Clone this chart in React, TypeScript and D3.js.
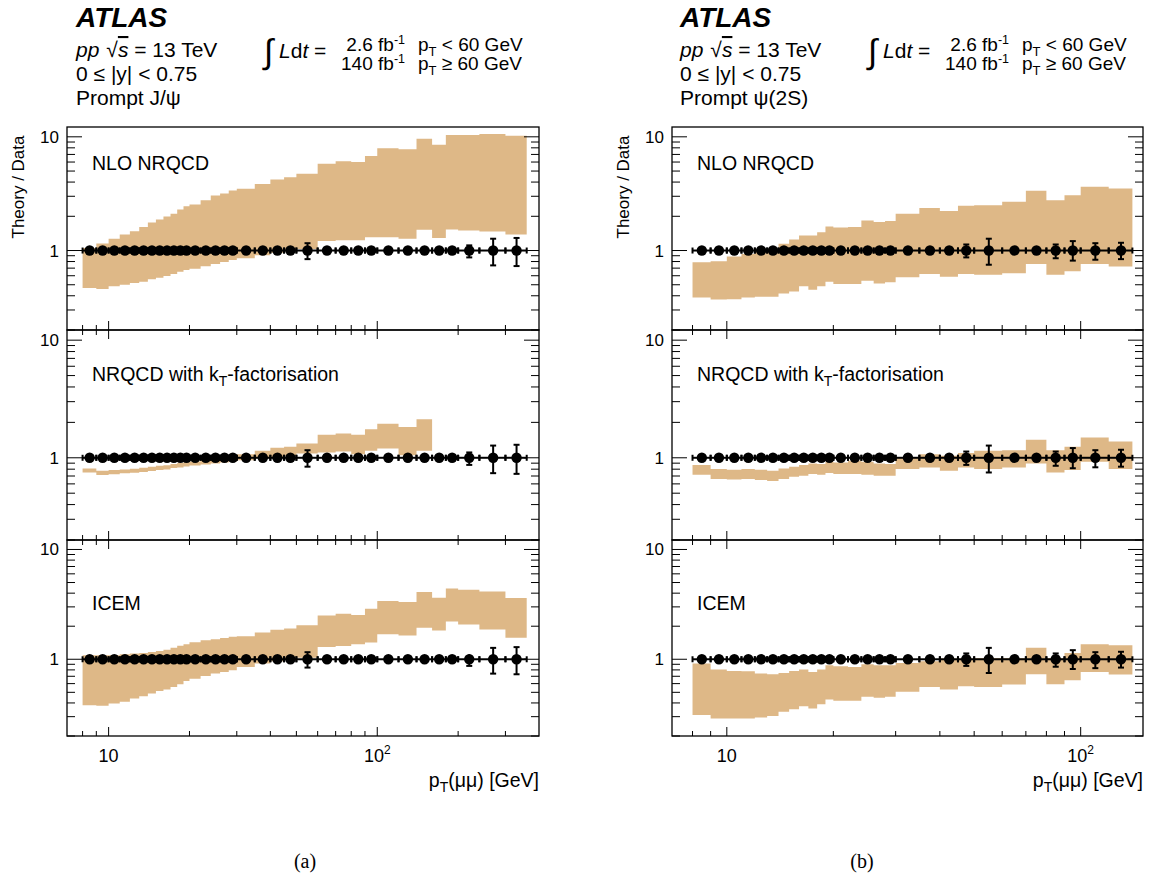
import * as d3 from 'd3';

// bin edges and points (GeV)
const edgesJpsi = [8, 9, 10, 11, 12, 13, 14, 15, 16, 17, 18, 19, 20, 22, 24, 26, 28, 30, 35, 40, 45, 50, 60, 70, 80, 90, 100, 120, 140, 160, 180, 200, 240, 300, 360];
const ptJpsi = [8.5, 9.5, 10.5, 11.5, 12.5, 13.5, 14.5, 15.5, 16.5, 17.5, 18.5, 19.5, 21, 23, 25, 27, 29, 32.5, 37.5, 42.5, 47.5, 55, 65, 75, 85, 95, 110, 130, 150, 170, 190, 220, 270, 330];
const errUpJpsi = [0.01, 0.01, 0.01, 0.01, 0.01, 0.01, 0.01, 0.01, 0.01, 0.01, 0.01, 0.01, 0.01, 0.01, 0.01, 0.01, 0.01, 0.01, 0.01, 0.01, 0.01, 0.16, 0.02, 0.02, 0.02, 0.02, 0.03, 0.03, 0.04, 0.05, 0.085, 0.11, 0.27, 0.29];
const errDnJpsi = [0.01, 0.01, 0.01, 0.01, 0.01, 0.01, 0.01, 0.01, 0.01, 0.01, 0.01, 0.01, 0.01, 0.01, 0.01, 0.01, 0.01, 0.01, 0.01, 0.01, 0.01, 0.16, 0.02, 0.02, 0.02, 0.02, 0.03, 0.03, 0.04, 0.05, 0.08, 0.13, 0.26, 0.27];

const nloJpsiHi = [1.05, 1.15, 1.27, 1.38, 1.48, 1.61, 1.76, 1.87, 1.99, 2.11, 2.29, 2.45, 2.54, 2.77, 3.05, 3.17, 3.37, 3.49, 3.84, 4.22, 4.4, 4.74, 5.81, 6.09, 6.01, 6.79, 7.94, 7.78, 9.6, 8.5, 10.4, 10.35, 10.6, 10.2];
const nloJpsiLo = [0.467, 0.458, 0.484, 0.5, 0.518, 0.532, 0.558, 0.577, 0.597, 0.621, 0.652, 0.674, 0.693, 0.727, 0.762, 0.794, 0.827, 0.855, 0.909, 0.954, 0.987, 1.03, 1.21, 1.23, 1.23, 1.31, 1.31, 1.27, 1.52, 1.29, 1.53, 1.5, 1.47, 1.38];
const ktJpsiHi = [0.812, 0.776, 0.786, 0.796, 0.807, 0.823, 0.839, 0.855, 0.866, 0.884, 0.901, 0.919, 0.931, 0.955, 0.987, 1.007, 1.04, 1.074, 1.15, 1.22, 1.24, 1.32, 1.57, 1.61, 1.57, 1.75, 1.95, 1.83, 2.13];
const ktJpsiLo = [0.751, 0.713, 0.723, 0.737, 0.746, 0.756, 0.771, 0.786, 0.796, 0.817, 0.828, 0.845, 0.861, 0.878, 0.895, 0.913, 0.931, 0.955, 0.99, 1.006, 1.04, 1.09, 1.11, 1.13, 1.07, 1.15, 1.2, 1.05, 1.15];
const icemJpsiHi = [1.09, 1.09, 1.09, 1.11, 1.126, 1.14, 1.166, 1.19, 1.22, 1.276, 1.33, 1.37, 1.43, 1.49, 1.52, 1.56, 1.6, 1.62, 1.75, 1.86, 1.91, 2.04, 2.51, 2.6, 2.53, 2.89, 3.39, 3.32, 4.09, 3.64, 4.42, 4.3, 4.15, 3.61];
const icemJpsiLo = [0.382, 0.377, 0.395, 0.41, 0.439, 0.461, 0.487, 0.515, 0.53, 0.56, 0.593, 0.635, 0.663, 0.705, 0.741, 0.767, 0.794, 0.852, 0.913, 0.959, 0.98, 1.03, 1.295, 1.32, 1.37, 1.42, 1.69, 1.65, 1.94, 1.83, 2.21, 2.07, 1.87, 1.57];

const edgesPsi = [8, 9, 10, 11, 12, 13, 14, 15, 16, 17, 18, 19, 20, 22, 24, 26, 28, 30, 35, 40, 45, 50, 60, 70, 80, 90, 100, 120, 140];
const ptPsi = [8.5, 9.5, 10.5, 11.5, 12.5, 13.5, 14.5, 15.5, 16.5, 17.5, 18.5, 19.5, 21, 23, 25, 27, 29, 32.5, 37.5, 42.5, 47.5, 55, 65, 75, 85, 95, 110, 130];
const errUpPsi = [0.01, 0.01, 0.01, 0.01, 0.01, 0.01, 0.01, 0.01, 0.01, 0.01, 0.01, 0.01, 0.01, 0.01, 0.01, 0.01, 0.01, 0.02, 0.03, 0.04, 0.13, 0.27, 0.03, 0.05, 0.13, 0.21, 0.16, 0.17];
const errDnPsi = [0.01, 0.01, 0.01, 0.01, 0.01, 0.01, 0.01, 0.01, 0.01, 0.01, 0.01, 0.01, 0.01, 0.01, 0.01, 0.01, 0.01, 0.02, 0.03, 0.04, 0.13, 0.25, 0.03, 0.05, 0.145, 0.185, 0.17, 0.16];

const nloPsiHi = [0.788, 0.805, 0.885, 0.934, 0.98, 1.034, 1.146, 1.25, 1.357, 1.357, 1.45, 1.63, 1.59, 1.61, 1.84, 1.78, 1.82, 2.11, 2.37, 2.23, 2.47, 2.5, 2.68, 3.35, 2.77, 3.07, 3.64, 3.51];
const nloPsiLo = [0.386, 0.371, 0.373, 0.386, 0.392, 0.392, 0.419, 0.437, 0.484, 0.452, 0.484, 0.532, 0.507, 0.507, 0.543, 0.514, 0.525, 0.581, 0.621, 0.589, 0.621, 0.613, 0.63, 0.762, 0.613, 0.656, 0.762, 0.722];
const ktPsiHi = [0.867, 0.802, 0.791, 0.802, 0.791, 0.776, 0.812, 0.839, 0.867, 0.895, 0.884, 0.925, 0.913, 0.943, 0.925, 0.895, 0.884, 1.006, 1.074, 1.04, 1.1, 1.146, 1.161, 1.42, 1.161, 1.24, 1.486, 1.375];
const ktPsiLo = [0.718, 0.66, 0.655, 0.66, 0.647, 0.634, 0.66, 0.69, 0.704, 0.727, 0.718, 0.742, 0.727, 0.727, 0.718, 0.704, 0.704, 0.802, 0.828, 0.776, 0.828, 0.802, 0.828, 0.895, 0.751, 0.786, 0.925, 0.802];
const icemPsiHi = [0.913, 0.805, 0.783, 0.778, 0.741, 0.731, 0.751, 0.783, 0.805, 0.767, 0.805, 0.882, 0.864, 0.852, 0.901, 0.882, 0.882, 0.926, 0.959, 1.014, 1.014, 1.028, 1.028, 1.276, 1.028, 1.14, 1.368, 1.34];
const icemPsiLo = [0.31, 0.289, 0.289, 0.289, 0.295, 0.305, 0.332, 0.351, 0.374, 0.356, 0.39, 0.43, 0.418, 0.418, 0.455, 0.445, 0.455, 0.505, 0.56, 0.53, 0.569, 0.56, 0.589, 0.731, 0.593, 0.644, 0.767, 0.726];

const modelNames = ['NLO NRQCD', 'NRQCD with k', 'ICEM'];
const yDomain = [0.2, 12.2];

const figures = [
    {
        caption: '(a)', particle: 'Prompt J/\u03c8', xDomain: [7, 400], x0: 67, x1: 539,
        edges: edgesJpsi, pt: ptJpsi, up: errUpJpsi, dn: errDnJpsi,
        bands: [[nloJpsiLo, nloJpsiHi], [ktJpsiLo, ktJpsiHi], [icemJpsiLo, icemJpsiHi]],
        hx: 76, capX: 305,
    },
    {
        caption: '(b)', particle: 'Prompt \u03c8(2S)', xDomain: [7, 150], x0: 672, x1: 1143,
        edges: edgesPsi, pt: ptPsi, up: errUpPsi, dn: errDnPsi,
        bands: [[nloPsiLo, nloPsiHi], [ktPsiLo, ktPsiHi], [icemPsiLo, icemPsiHi]],
        hx: 680, capX: 862,
    },
];

const panelY = [[127, 330], [330, 540], [540, 736]];
const band = '#deb887';
const font = '"Liberation Sans", Arial, Helvetica, sans-serif';

const isMajor = (v) => Math.abs(Math.log10(v) - Math.round(Math.log10(v))) < 1e-6;

const Header = ({ f }) => {
    const h = f.hx;
    return (
        <g fontFamily={font} fill="#000">
            <text x={h} y={27} fontSize={28} fontWeight="bold" fontStyle="italic">ATLAS</text>
            <text x={h} y={57} fontSize={21}>
                <tspan fontStyle="italic">pp</tspan>
                <tspan dx={7}>{'\u221a'}</tspan>
                <tspan fontStyle="italic" style={{ textDecoration: 'overline' }}>s</tspan>
                <tspan> = 13 TeV</tspan>
            </text>
            <text x={h} y={81} fontSize={21}>0 {'\u2264'} |y| {'<'} 0.75</text>
            <text x={h} y={105} fontSize={21}>{f.particle}</text>
            <text x={h + 188} y={63} fontSize={34}>{'\u222b'}</text>
            <text x={h + 203} y={58} fontSize={21}>
                <tspan fontStyle="italic">L</tspan>d<tspan fontStyle="italic">t</tspan> =
            </text>
            <text x={h + 329} y={51} fontSize={19} textAnchor="end">
                2.6 fb<tspan fontSize={12.5} dy={-7}>-1</tspan>
            </text>
            <text x={h + 329} y={70} fontSize={19} textAnchor="end">
                140 fb<tspan fontSize={12.5} dy={-7}>-1</tspan>
            </text>
            <text x={h + 342} y={51} fontSize={19}>
                p<tspan fontSize={13} dy={5}>T</tspan><tspan dy={-5}> {'<'} 60 GeV</tspan>
            </text>
            <text x={h + 342} y={70} fontSize={19}>
                p<tspan fontSize={13} dy={5}>T</tspan><tspan dy={-5}> {'\u2265'} 60 GeV</tspan>
            </text>
        </g>
    );
};

const Panel = ({ f, p, x }) => {
    const [top, bottom] = panelY[p];
    const y = d3.scaleLog().domain(yDomain).range([bottom, top]);
    const [lo, hi] = f.bands[p];
    const yTicks = y.ticks();
    const xTicks = x.ticks().filter((v) => x(v) > f.x0 + 0.5 && x(v) < f.x1 - 0.5);
    const y1 = y(1);
    // step band over the bins that have a prediction
    const idx = d3.range(lo.length + 1);
    const area = d3
        .area()
        .curve(d3.curveStepAfter)
        .x((i) => x(f.edges[i]))
        .y0((i) => y(lo[Math.min(i, lo.length - 1)]))
        .y1((i) => y(hi[Math.min(i, hi.length - 1)]));
    return (
        <g>
            <path d={area(idx)} fill={band} />
            {/* data: ratio = 1 with errors */}
            {f.pt.map((v, i) => {
                const xa = x(f.edges[i]);
                const xb = x(f.edges[i + 1]);
                const cx = x(v);
                const yu = y(1 + f.up[i]);
                const yd = y(1 - f.dn[i]);
                return (
                    <g key={'d' + i} stroke="#000" strokeWidth={2}>
                        <line x1={xa} x2={xb} y1={y1} y2={y1} />
                        <line x1={xa} x2={xa} y1={y1 - 3} y2={y1 + 3} />
                        <line x1={xb} x2={xb} y1={y1 - 3} y2={y1 + 3} />
                        <line x1={cx} x2={cx} y1={yu} y2={yd} />
                        {y1 - yu > 5 && <line x1={cx - 3} x2={cx + 3} y1={yu} y2={yu} />}
                        {yd - y1 > 5 && <line x1={cx - 3} x2={cx + 3} y1={yd} y2={yd} />}
                        <circle cx={cx} cy={y1} r={5.2} fill="#000" stroke="none" />
                    </g>
                );
            })}
            {/* y ticks both sides */}
            {yTicks.map((v, i) => {
                const len = isMajor(v) ? 15 : 8;
                return (
                    <g key={'yt' + i} stroke="#000" strokeWidth={1}>
                        <line x1={f.x0} x2={f.x0 + len} y1={y(v)} y2={y(v)} />
                        <line x1={f.x1} x2={f.x1 - len} y1={y(v)} y2={y(v)} />
                    </g>
                );
            })}
            {/* x ticks */}
            {xTicks.map((v, i) => {
                const len = isMajor(v) ? 9 : 5;
                return (
                    <g key={'xt' + i} stroke="#000" strokeWidth={1}>
                        <line x1={x(v)} x2={x(v)} y1={bottom} y2={bottom - len} />
                        {p > 0 && <line x1={x(v)} x2={x(v)} y1={top} y2={top + len} />}
                    </g>
                );
            })}
            {yTicks.filter(isMajor).map((v, i) => (
                <text key={'yl' + i} x={f.x0 - 8} y={y(v) + 6} fontSize={17} textAnchor="end" fontFamily={font}>
                    {d3.format('d')(v)}
                </text>
            ))}
            <text x={f.x0 + 25} y={[170, 381, 610][p]} fontSize={19.5} fontFamily={font}>
                {modelNames[p]}
                {p === 1 && (
                    <>
                        <tspan fontSize={14} dy={5}>T</tspan>
                        <tspan dy={-5}>-factorisation</tspan>
                    </>
                )}
            </text>
            <rect x={f.x0} y={top} width={f.x1 - f.x0} height={bottom - top} fill="none" stroke="#000" strokeWidth={1.3} />
            {p === 2 &&
                xTicks.filter(isMajor).map((v, i) => (
                    <text key={'xl' + i} x={x(v)} y={762} fontSize={18} textAnchor="middle" fontFamily={font}>
                        {v === 10 ? '10' : (
                            <>
                                10<tspan fontSize={12} dy={-8}>{Math.round(Math.log10(v))}</tspan>
                            </>
                        )}
                    </text>
                ))}
        </g>
    );
};

const Figure = ({ f }) => {
    const x = d3.scaleLog().domain(f.xDomain).range([f.x0, f.x1]);
    return (
        <g>
            <Header f={f} />
            {[0, 1, 2].map((p) => (
                <Panel key={p} f={f} p={p} x={x} />
            ))}
            {/* axis title sits at the top end like ROOT */}
            <text
                transform={`translate(${f.x0 - 43},${panelY[0][0] + 60}) rotate(-90)`}
                fontSize={17}
                textAnchor="middle"
                fontFamily={font}
            >
                Theory / Data
            </text>
            <text x={f.x1} y={787} fontSize={19.5} textAnchor="end" fontFamily={font}>
                p<tspan fontSize={14} dy={5}>T</tspan><tspan dy={-5}>({'\u03bc\u03bc'}) [GeV]</tspan>
            </text>
            <text x={f.capX} y={868} fontSize={20} textAnchor="middle" fontFamily='"Liberation Serif", "Times New Roman", serif'>
                {f.caption}
            </text>
        </g>
    );
};

const App = () => (
    <svg width={1156} height={883} style={{ position: 'absolute', left: 0, top: 0, background: '#fff' }}>
        <rect width={1156} height={883} fill="#fff" />
        {figures.map((f) => (
            <Figure key={f.caption} f={f} />
        ))}
    </svg>
);

export default App;
